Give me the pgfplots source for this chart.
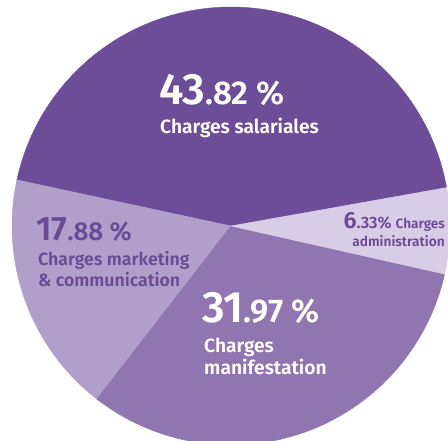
\documentclass[border=0pt]{standalone}
\usepackage{pgfplots}
\pgfplotsset{compat=1.18}
\usepackage{fontspec}
\setmainfont{Fira Sans}
\newfontfamily\semib{Fira Sans SemiBold}
\definecolor{cSal}{RGB}{110,77,152}
\definecolor{cMkt}{RGB}{176,159,203}
\definecolor{cMan}{RGB}{144,117,176}
\definecolor{cAdm}{RGB}{216,205,230}
\definecolor{cTxt}{RGB}{106,74,150}
% shares (%)
\def\pSal{43.82}
\def\pMkt{17.88}
\def\pMan{31.97}
\def\pAdm{6.33}
\def\cx{231}
\def\cy{215}
\def\R{219}
\pgfmathsetmacro\aA{10.1}
\pgfmathsetmacro\aB{\aA+3.6*\pSal}
\pgfmathsetmacro\aC{\aB+3.6*\pMkt}
\pgfmathsetmacro\aD{\aC+3.6*\pMan}
\pgfmathsetmacro\aE{\aD+3.6*\pAdm}
\newcommand\fs[1]{\fontsize{#1}{#1}\selectfont}
\begin{document}
\begin{tikzpicture}
\begin{axis}[scale only axis, width=448bp, height=441bp,
  xmin=0, xmax=448, ymin=0, ymax=441, axis lines=none, clip=true]
\addplot[fill=cSal, draw=cSal, line width=0.4pt, domain=\aA:\aB, samples=90, variable=\t]
  ({\cx+\R*cos(\t)}, {\cy+\R*sin(\t)}) -- (axis cs:\cx,\cy) -- cycle;
\addplot[fill=cMkt, draw=cMkt, line width=0.4pt, domain=\aB:\aC, samples=50, variable=\t]
  ({\cx+\R*cos(\t)}, {\cy+\R*sin(\t)}) -- (axis cs:\cx,\cy) -- cycle;
\addplot[fill=cMan, draw=cMan, line width=0.4pt, domain=\aC:\aD, samples=80, variable=\t]
  ({\cx+\R*cos(\t)}, {\cy+\R*sin(\t)}) -- (axis cs:\cx,\cy) -- cycle;
\addplot[fill=cAdm, draw=cAdm, line width=0.4pt, domain=\aD:\aE, samples=25, variable=\t]
  ({\cx+\R*cos(\t)}, {\cy+\R*sin(\t)}) -- (axis cs:\cx,\cy) -- cycle;
% labels
\node[anchor=base west, inner sep=0pt, text=white, font=\semib] at (axis cs:159,336)
  {\fs{44}43\fs{33}.82 \%};
\node[anchor=base west, inner sep=0pt, text=white, font=\semib\fs{19.3}] at (axis cs:160,307)
  {Charges salariales};
\node[anchor=base west, inner sep=0pt, text=cTxt, font=\semib] at (axis cs:36,200)
  {\fs{34}17\fs{26}.88 \%};
\node[anchor=base west, inner sep=0pt, text=cTxt, font=\semib\fs{17.8}] at (axis cs:38,175)
  {Charges marketing};
\node[anchor=base west, inner sep=0pt, text=cTxt, font=\semib\fs{17.8}] at (axis cs:38,154)
  {\& communication};
\node[anchor=base west, inner sep=0pt, text=white, font=\semib] at (axis cs:202,118)
  {\fs{44}31\fs{33}.97 \%};
\node[anchor=base west, inner sep=0pt, text=white, font=\semib\fs{19.3}] at (axis cs:204,88)
  {Charges};
\node[anchor=base west, inner sep=0pt, text=white, font=\semib\fs{19.3}] at (axis cs:204,66)
  {manifestation};
\node[anchor=base east, inner sep=0pt, text=cTxt, font=\semib] at (axis cs:445,212)
  {\fs{23.5}6\fs{16.5}.33\% \fs{13.6}Charges};
\node[anchor=base east, inner sep=0pt, text=cTxt, font=\semib\fs{13.8}] at (axis cs:445,194)
  {administration};
\end{axis}
\pgfresetboundingbox
\path[use as bounding box] (current axis.south west) rectangle (current axis.north east);
\end{tikzpicture}
\end{document}
